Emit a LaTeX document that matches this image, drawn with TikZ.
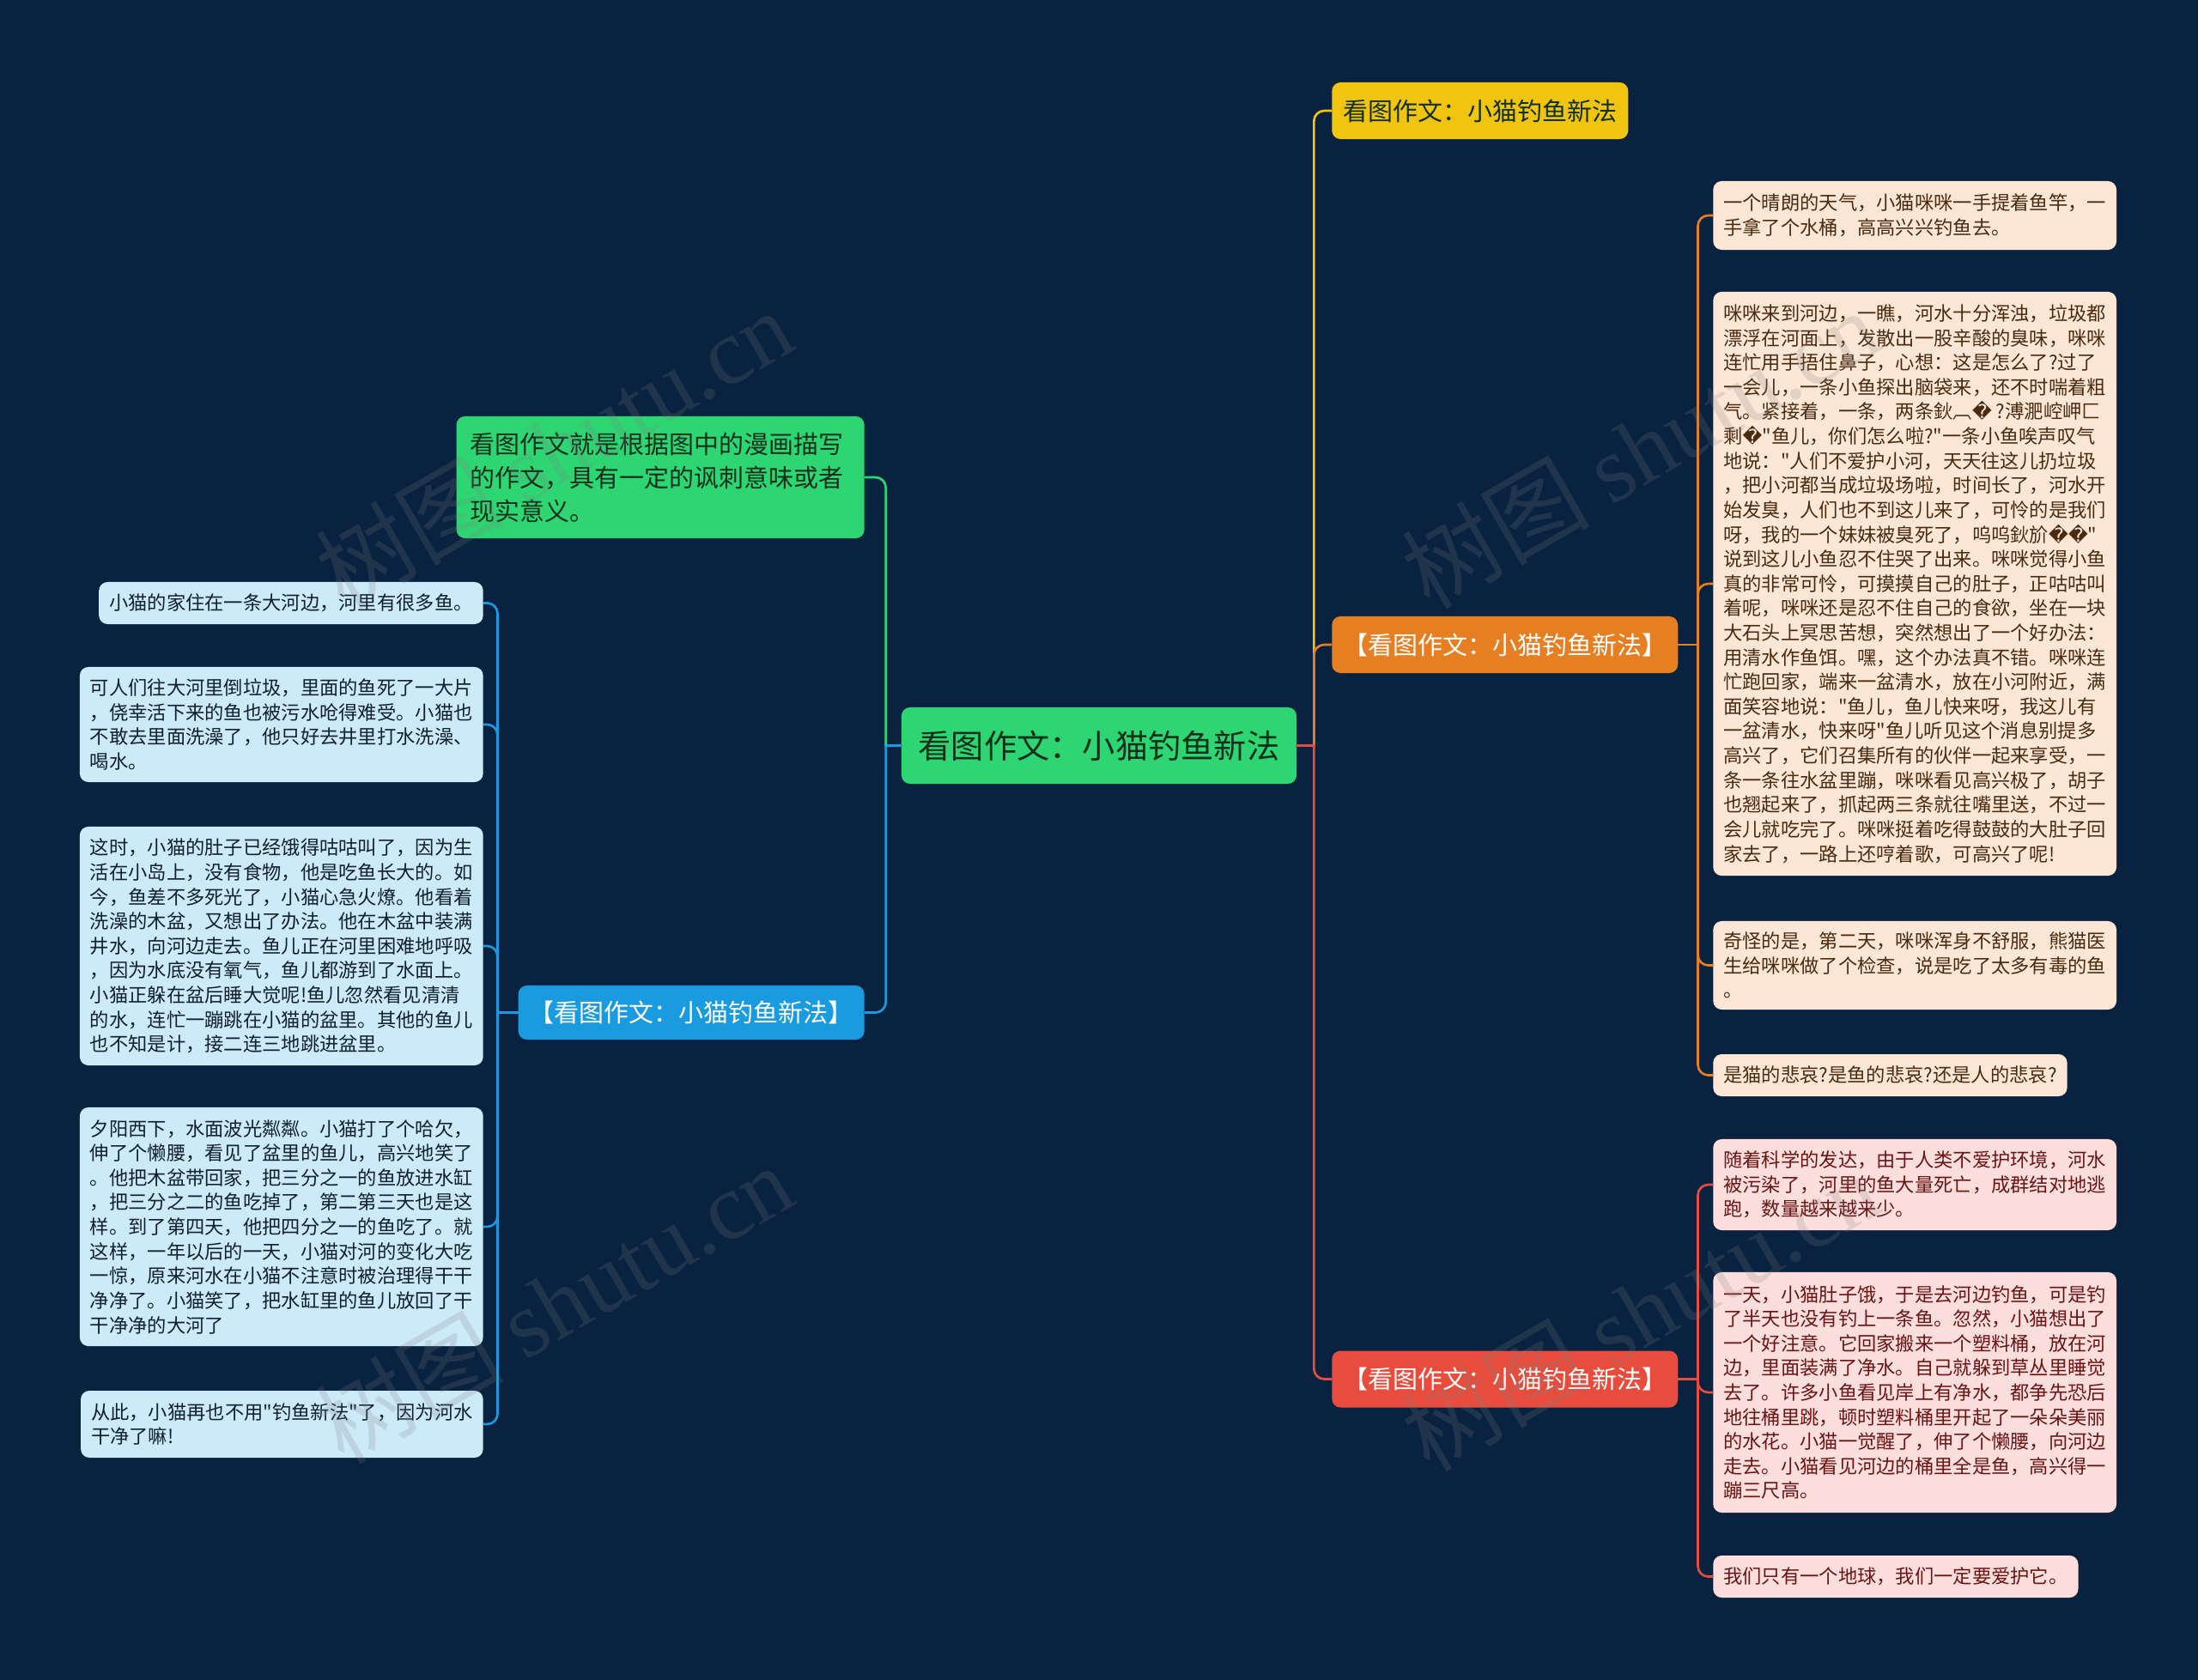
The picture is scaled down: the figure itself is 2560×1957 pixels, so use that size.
\documentclass[tikz,border=0pt]{standalone}
\usepackage{fontspec}
\newfontfamily\cjk{Noto Sans CJK SC}
\newfontfamily\dvs{DejaVu Sans}
\newfontfamily\wmserif{Liberation Serif}
\newcommand{\rp}{{\dvs\char"FFFD}}
\definecolor{bg}{HTML}{082240}
\definecolor{cgreen}{HTML}{2ED573}
\definecolor{cyellow}{HTML}{F1C40F}
\definecolor{corange}{HTML}{E67E22}
\definecolor{cred}{HTML}{E74C3C}
\definecolor{cblue}{HTML}{1A9BE0}
\definecolor{peach}{HTML}{FCE7D6}
\definecolor{peachtxt}{HTML}{4A2A10}
\definecolor{pink}{HTML}{FCDEDD}
\definecolor{pinktxt}{HTML}{6B1414}
\definecolor{lblue}{HTML}{CDEAF8}
\definecolor{lbluetxt}{HTML}{10202E}
\definecolor{darktxt}{HTML}{10301C}
\begin{document}
\begin{tikzpicture}[x=0.025cm,y=-0.025cm,
  box/.style={rounded corners=0.25cm, inner xsep=0.3cm, inner ysep=0pt, align=left},
  smallfont/.style={font={\cjk\fontsize{15.85}{20.35}\selectfont}},
  bigfont/.style={font={\cjk\fontsize{20.6}{27.7}\selectfont}},
  pbox/.style={box, smallfont, fill=peach, text=peachtxt, anchor=west},
  rbox/.style={box, smallfont, fill=pink, text=pinktxt, anchor=west},
  bbox/.style={box, smallfont, fill=lblue, text=lbluetxt, anchor=east},
  mainbox/.style={box, bigfont, minimum height=1.65cm, inner xsep=0.33cm},
  elbow/.style={line width=1.9pt, rounded corners=0.3cm},
  stub/.style={line width=1.9pt, line cap=rect},
  wm/.style={text=gray, text opacity=0.2, font={\cjk\fontsize{78}{86}\selectfont}, rotate=30}
]
\fill[bg] (0,0) rectangle (2560,1957);
\useasboundingbox (0,0) rectangle (2560,1957);

% root
\node[box, fill=cgreen, text=darktxt, font={\cjk\fontsize{27.2}{32}\selectfont}, minimum height=2.225cm, minimum width=11.5cm, align=center] (root) at (1280,868.5) {看图作文：小猫钓鱼新法};

% first level
\node[box, bigfont, fill=cgreen, text=darktxt, anchor=east, text width=11.075cm, inner xsep=0.4cm, minimum height=3.55cm] (gtxt) at (1007,556) {看图作文就是根据图中的漫画描写\\的作文，具有一定的讽刺意味或者\\现实意义。};
\node[mainbox, fill=cblue, text=white, anchor=east, minimum height=1.575cm] (bmain) at (1007,1179.5) {【看图作文：小猫钓鱼新法】};
\node[mainbox, fill=cyellow, text=darktxt, anchor=west] (ymain) at (1551,129) {看图作文：小猫钓鱼新法};
\node[mainbox, fill=corange, text=white, anchor=west] (omain) at (1551,751) {【看图作文：小猫钓鱼新法】};
\node[mainbox, fill=cred, text=white, anchor=west] (rmain) at (1551,1606.5) {【看图作文：小猫钓鱼新法】};

% orange leaves
\node[pbox, minimum height=2.0cm] (p1) at (1995,251) {一个晴朗的天气，小猫咪咪一手提着鱼竿，一\\手拿了个水桶，高高兴兴钓鱼去。};
\node[pbox, minimum height=17.0cm] (p2) at (1995,680) {咪咪来到河边，一瞧，河水十分浑浊，垃圾都\\
漂浮在河面上，发散出一股辛酸的臭味，咪咪\\
连忙用手捂住鼻子，心想：这是怎么了?过了\\
一会儿，一条小鱼探出脑袋来，还不时喘着粗\\
气。紧接着，一条，两条鈥︹\rp{} ?溥淝崆岬匚\\
剩\rp"鱼儿，你们怎么啦?"一条小鱼唉声叹气\\
地说："人们不爱护小河，天天往这儿扔垃圾\\
，把小河都当成垃圾场啦，时间长了，河水开\\
始发臭，人们也不到这儿来了，可怜的是我们\\
呀，我的一个妹妹被臭死了，呜呜鈥斺\rp\rp"\\
说到这儿小鱼忍不住哭了出来。咪咪觉得小鱼\\
真的非常可怜，可摸摸自己的肚子，正咕咕叫\\
着呢，咪咪还是忍不住自己的食欲，坐在一块\\
大石头上冥思苦想，突然想出了一个好办法：\\
用清水作鱼饵。嘿，这个办法真不错。咪咪连\\
忙跑回家，端来一盆清水，放在小河附近，满\\
面笑容地说："鱼儿，鱼儿快来呀，我这儿有\\
一盆清水，快来呀"鱼儿听见这个消息别提多\\
高兴了，它们召集所有的伙伴一起来享受，一\\
条一条往水盆里蹦，咪咪看见高兴极了，胡子\\
也翘起来了，抓起两三条就往嘴里送，不过一\\
会儿就吃完了。咪咪挺着吃得鼓鼓的大肚子回\\
家去了，一路上还哼着歌，可高兴了呢!};
\node[pbox, minimum height=2.575cm] (p3) at (1995,1124.5) {奇怪的是，第二天，咪咪浑身不舒服，熊猫医\\生给咪咪做了个检查，说是吃了太多有毒的鱼\\。};
\node[pbox, minimum height=1.225cm] (p4) at (1995,1252.5) {是猫的悲哀?是鱼的悲哀?还是人的悲哀?};

% red leaves
\node[rbox, minimum height=2.65cm] (r1) at (1995,1380) {随着科学的发达，由于人类不爱护环境，河水\\被污染了，河里的鱼大量死亡，成群结对地逃\\跑，数量越来越来少。};
\node[rbox, minimum height=7.0cm] (r2) at (1995,1622) {一天，小猫肚子饿，于是去河边钓鱼，可是钓\\
了半天也没有钓上一条鱼。忽然，小猫想出了\\
一个好注意。它回家搬来一个塑料桶，放在河\\
边，里面装满了净水。自己就躲到草丛里睡觉\\
去了。许多小鱼看见岸上有净水，都争先恐后\\
地往桶里跳，顿时塑料桶里开起了一朵朵美丽\\
的水花。小猫一觉醒了，伸了个懒腰，向河边\\
走去。小猫看见河边的桶里全是鱼，高兴得一\\
蹦三尺高。};
\node[rbox, minimum height=1.225cm] (r3) at (1995,1836.5) {我们只有一个地球，我们一定要爱护它。};

% blue leaves
\node[bbox, minimum height=1.225cm] (b1) at (563,702.5) {小猫的家住在一条大河边，河里有很多鱼。};
\node[bbox, minimum height=3.35cm] (b2) at (563,844) {可人们往大河里倒垃圾，里面的鱼死了一大片\\，侥幸活下来的鱼也被污水呛得难受。小猫也\\不敢去里面洗澡了，他只好去井里打水洗澡、\\喝水。};
\node[bbox, minimum height=6.95cm] (b3) at (563,1102) {这时，小猫的肚子已经饿得咕咕叫了，因为生\\
活在小岛上，没有食物，他是吃鱼长大的。如\\
今，鱼差不多死光了，小猫心急火燎。他看着\\
洗澡的木盆，又想出了办法。他在木盆中装满\\
井水，向河边走去。鱼儿正在河里困难地呼吸\\
，因为水底没有氧气，鱼儿都游到了水面上。\\
小猫正躲在盆后睡大觉呢!鱼儿忽然看见清清\\
的水，连忙一蹦跳在小猫的盆里。其他的鱼儿\\
也不知是计，接二连三地跳进盆里。};
\node[bbox, minimum height=6.95cm] (b4) at (563,1429) {夕阳西下，水面波光粼粼。小猫打了个哈欠，\\
伸了个懒腰，看见了盆里的鱼儿，高兴地笑了\\
。他把木盆带回家，把三分之一的鱼放进水缸\\
，把三分之二的鱼吃掉了，第二第三天也是这\\
样。到了第四天，他把四分之一的鱼吃了。就\\
这样，一年以后的一天，小猫对河的变化大吃\\
一惊，原来河水在小猫不注意时被治理得干干\\
净净了。小猫笑了，把水缸里的鱼儿放回了干\\
干净净的大河了};
\node[bbox, minimum height=1.95cm] (b5) at (563,1659) {从此，小猫再也不用"钓鱼新法"了，因为河水\\干净了嘛!};

% trunk points
\coordinate (tl) at ([xshift=-18*0.025cm]root.west);
\coordinate (tr) at ([xshift=20*0.025cm]root.east);
\coordinate (to) at ([xshift=23*0.025cm]omain.east);
\coordinate (tred) at ([xshift=23*0.025cm]rmain.east);
\coordinate (tb) at ([xshift=-24*0.025cm]bmain.west);

% connectors from root: sharp at the trunk, rounded at the child
\draw[elbow, draw=cgreen] (tl) |- (gtxt.east);
\draw[elbow, draw=cblue] (tl) |- (bmain.east);
\draw[stub, draw=cblue] (root.west) -- (tl);
\draw[elbow, draw=cyellow] (tr) |- (ymain.west);
\draw[elbow, draw=corange] (tr) |- (omain.west);
\draw[elbow, draw=cred] (tr) |- (rmain.west);
\draw[stub, draw=cred] (root.east) -- (tr);

% orange children
\foreach \n in {p1,p2,p3,p4}
  \draw[elbow, draw=corange] (to) |- (\n.west);
\draw[stub, draw=corange] (omain.east) -- (to);
% red children
\foreach \n in {r1,r2,r3}
  \draw[elbow, draw=cred] (tred) |- (\n.west);
\draw[stub, draw=cred] (rmain.east) -- (tred);
% blue children
\foreach \n in {b1,b2,b3,b4,b5}
  \draw[elbow, draw=cblue] (tb) |- (\n.east);
\draw[stub, draw=cblue] (bmain.west) -- (tb);

% watermarks
\node[wm] (wm1) at (645,522) {树图 {\wmserif shutu.cn}};
\node[wm] (wm2) at (1910,522) {树图 {\wmserif shutu.cn}};
\node[wm] (wm3) at (645,1518) {树图 {\wmserif shutu.cn}};
\node[wm] (wm4) at (1910,1527) {树图 {\wmserif shutu.cn}};
\end{tikzpicture}
\end{document}
